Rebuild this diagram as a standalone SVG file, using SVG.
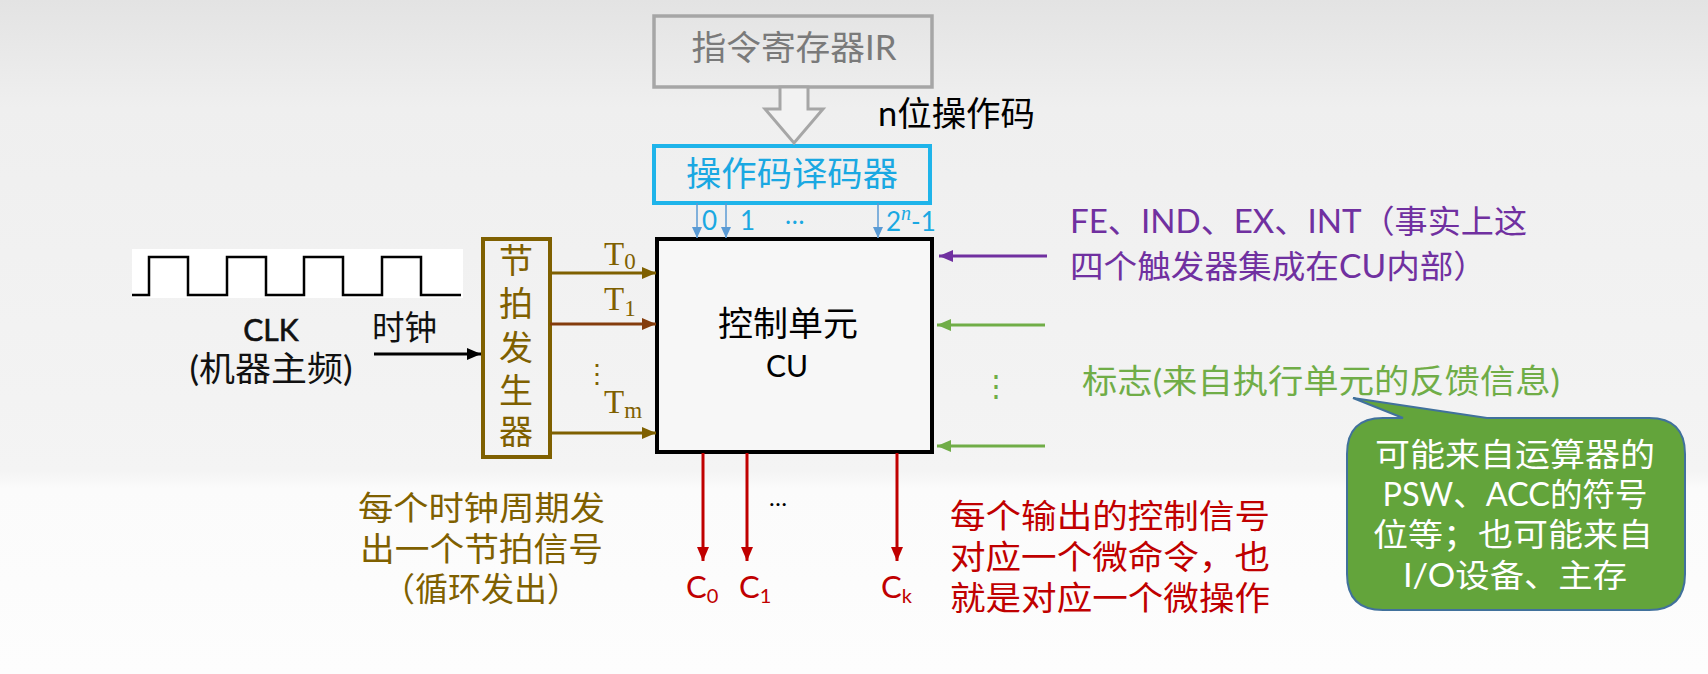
<svg xmlns="http://www.w3.org/2000/svg" width="1708" height="674" viewBox="0 0 1708 674">
<defs>
<style>
.t { font-family: Lato, "Noto Sans CJK SC", sans-serif; }
.c34 { font-size: 34px; }
.serif { font-family: "Liberation Serif", "Noto Sans CJK SC", serif; }
.olive { fill: #7f6000; }
.red { fill: #c00000; }
.purple { fill: #7030a0; }
.green { fill: #70ad47; }
.cyan { fill: #1aa8e2; }
.ln { fill: none; stroke-width: 3; }
</style>
<linearGradient id="bg" x1="0" y1="0" x2="0" y2="1">
<stop offset="0" stop-color="#e3e3e3"/>
<stop offset="0.16" stop-color="#efefef"/>
<stop offset="0.70" stop-color="#f4f4f4"/>
<stop offset="0.725" stop-color="#fbfbfb"/>
<stop offset="1" stop-color="#fdfdfd"/>
</linearGradient>
<marker id="aBlack" markerUnits="userSpaceOnUse" markerWidth="14" markerHeight="12" refX="14" refY="6" orient="auto"><path d="M0,0 L14,6 L0,12 Z" fill="#000"/></marker>
<marker id="aOlive" markerUnits="userSpaceOnUse" markerWidth="14" markerHeight="12" refX="14" refY="6" orient="auto"><path d="M0,0 L14,6 L0,12 Z" fill="#7f6000"/></marker>
<marker id="aBrown" markerUnits="userSpaceOnUse" markerWidth="14" markerHeight="12" refX="14" refY="6" orient="auto"><path d="M0,0 L14,6 L0,12 Z" fill="#843c0c"/></marker>
<marker id="aRed" markerUnits="userSpaceOnUse" markerWidth="14" markerHeight="12" refX="14" refY="6" orient="auto"><path d="M0,0 L14,6 L0,12 Z" fill="#c00000"/></marker>
<marker id="aPurple" markerUnits="userSpaceOnUse" markerWidth="14" markerHeight="12" refX="14" refY="6" orient="auto"><path d="M0,0 L14,6 L0,12 Z" fill="#7030a0"/></marker>
<marker id="aGreen" markerUnits="userSpaceOnUse" markerWidth="14" markerHeight="12" refX="14" refY="6" orient="auto"><path d="M0,0 L14,6 L0,12 Z" fill="#70ad47"/></marker>
<marker id="aBlue" markerUnits="userSpaceOnUse" markerWidth="11" markerHeight="10" refX="11" refY="5" orient="auto"><path d="M0,0 L11,5 L0,10 Z" fill="#5b9bd5"/></marker>
</defs>

<rect x="0" y="0" width="1708" height="674" fill="url(#bg)"/>

<g id="ir">
<rect x="654" y="16" width="278" height="71" fill="none" stroke="#a6a6a6" stroke-width="3.5"/>
<text class="t c34" x="794" y="60" text-anchor="middle" fill="#7a7a7a" textLength="205" lengthAdjust="spacingAndGlyphs">指令寄存器IR</text>
</g>

<g id="decoder">
<rect x="654" y="146" width="276" height="57" fill="none" stroke="#1fb4ea" stroke-width="4"/>
<text class="t c34 cyan" x="792" y="186" text-anchor="middle" textLength="212" lengthAdjust="spacingAndGlyphs">操作码译码器</text>
</g>

<g id="cu">
<rect x="657" y="239" width="275" height="213" fill="#f7f7f7" stroke="#000" stroke-width="4"/>
<text class="t c34" x="788" y="336" text-anchor="middle" fill="#000" textLength="140" lengthAdjust="spacingAndGlyphs">控制单元</text>
<text class="t" x="787" y="377" text-anchor="middle" font-size="30" fill="#000">CU</text>
</g>

<g id="clock">
<rect x="132" y="249" width="331" height="49" fill="#ffffff"/>
<path d="M132,295 H149 V257 H188 V295 H227 V257 H266 V295 H304 V257 H343 V295 H382 V257 H421 V295 H461" fill="none" stroke="#000" stroke-width="2.5"/>
<text class="t" x="271" y="341" text-anchor="middle" font-size="30" fill="#111" stroke="#111" stroke-width="0.6">CLK</text>
<text class="t c34" x="271" y="381" text-anchor="middle" fill="#111" textLength="163" lengthAdjust="spacingAndGlyphs">(机器主频)</text>
</g>

<g id="beat-generator">
<rect x="483" y="239" width="67" height="218" fill="none" stroke="#7f6000" stroke-width="4"/>
<g class="t c34 olive" text-anchor="middle">
<text x="516" y="273">节</text>
<text x="516" y="316">拍</text>
<text x="516" y="360">发</text>
<text x="516" y="403">生</text>
<text x="516" y="444">器</text>
</g>
</g>

<g id="connectors">
<polygon points="780,87 808,87 808,109 823,109 794,143 765,109 780,109" fill="#f2f2f2" stroke="#a6a6a6" stroke-width="3" stroke-linejoin="miter"/>
<line x1="697" y1="203" x2="697" y2="238" stroke="#5b9bd5" stroke-width="1.5" marker-end="url(#aBlue)"/>
<line x1="726" y1="203" x2="726" y2="238" stroke="#5b9bd5" stroke-width="1.5" marker-end="url(#aBlue)"/>
<line x1="878" y1="203" x2="878" y2="238" stroke="#5b9bd5" stroke-width="1.5" marker-end="url(#aBlue)"/>
<line class="ln" x1="374" y1="354" x2="481" y2="354" stroke="#000" marker-end="url(#aBlack)"/>
<line class="ln" x1="550" y1="273" x2="656" y2="273" stroke="#7f6000" marker-end="url(#aOlive)"/>
<line class="ln" x1="550" y1="324" x2="656" y2="324" stroke="#843c0c" marker-end="url(#aBrown)"/>
<line class="ln" x1="550" y1="433" x2="656" y2="433" stroke="#7f6000" marker-end="url(#aOlive)"/>
<line class="ln" x1="1047" y1="256" x2="939" y2="256" stroke="#7030a0" marker-end="url(#aPurple)"/>
<line class="ln" x1="1045" y1="325" x2="937" y2="325" stroke="#70ad47" marker-end="url(#aGreen)"/>
<line class="ln" x1="1045" y1="446" x2="937" y2="446" stroke="#70ad47" marker-end="url(#aGreen)"/>
<line class="ln" x1="703" y1="453" x2="703" y2="561" stroke="#c00000" marker-end="url(#aRed)"/>
<line class="ln" x1="747" y1="453" x2="747" y2="561" stroke="#c00000" marker-end="url(#aRed)"/>
<line class="ln" x1="897" y1="453" x2="897" y2="561" stroke="#c00000" marker-end="url(#aRed)"/>
</g>

<g id="labels">
<text class="t c34" x="878" y="126" fill="#000" textLength="157" lengthAdjust="spacingAndGlyphs">n位操作码</text>
<g class="t cyan" font-size="26">
<text x="702" y="230">0</text>
<text x="740" y="230">1</text>
<text x="785" y="224">…</text>
<text x="886" y="231">2<tspan class="serif" font-size="20" font-style="italic" dy="-11">n</tspan><tspan dy="11">-1</tspan></text>
</g>
<text class="t c34" x="372" y="340" fill="#111" textLength="65" lengthAdjust="spacingAndGlyphs">时钟</text>
<g class="serif olive" font-size="33">
<text x="604" y="265">T<tspan font-size="23" dy="4">0</tspan></text>
<text x="604" y="310">T<tspan font-size="23" dy="6">1</tspan></text>
<text x="604" y="413">T<tspan font-size="23" dy="5">m</tspan></text>
</g>
<text class="t olive" x="597" y="383" font-size="26" text-anchor="middle">⋮</text>
<text class="t" x="996" y="396" font-size="30" text-anchor="middle" fill="#70ad47">⋮</text>
<text class="t" x="778" y="506" font-size="24" text-anchor="middle" fill="#000">…</text>
<g class="t red" font-size="31">
<text x="686" y="598">C<tspan font-size="20" dy="5">0</tspan></text>
<text x="739" y="598">C<tspan font-size="20" dy="5">1</tspan></text>
<text x="881" y="598">C<tspan font-size="20" dy="5">k</tspan></text>
</g>
<g class="t olive" font-size="33">
<text x="358" y="520" textLength="247" lengthAdjust="spacingAndGlyphs">每个时钟周期发</text>
<text x="360" y="561" textLength="243" lengthAdjust="spacingAndGlyphs">出一个节拍信号</text>
<text x="481" y="601" text-anchor="middle">（循环发出）</text>
</g>
<g class="t red" font-size="33">
<text x="950" y="528" textLength="320" lengthAdjust="spacingAndGlyphs">每个输出的控制信号</text>
<text x="950" y="569" textLength="320" lengthAdjust="spacingAndGlyphs">对应一个微命令，也</text>
<text x="950" y="610" textLength="320" lengthAdjust="spacingAndGlyphs">就是对应一个微操作</text>
</g>
<g class="t purple" font-size="32">
<text x="1070" y="233" textLength="457" lengthAdjust="spacingAndGlyphs">FE、IND、EX、INT（事实上这</text>
<text x="1070" y="278" textLength="417" lengthAdjust="spacingAndGlyphs">四个触发器集成在CU内部）</text>
</g>
<text class="t green" x="1082" y="393" font-size="33" textLength="478" lengthAdjust="spacingAndGlyphs">标志(来自执行单元的反馈信息)</text>
</g>

<g id="bubble">
<path d="M1383,418 L1403,418 L1353,398 L1487,418 L1649,418 Q1685,418 1685,454 L1685,574 Q1685,610 1649,610 L1383,610 Q1347,610 1347,574 L1347,454 Q1347,418 1383,418 Z" fill="#63a43b" stroke="#41719c" stroke-width="2"/>
<g class="t" font-size="32" fill="#ffffff" text-anchor="middle">
<text x="1515" y="466" textLength="280" lengthAdjust="spacingAndGlyphs">可能来自运算器的</text>
<text x="1515" y="506" textLength="265" lengthAdjust="spacingAndGlyphs">PSW、ACC的符号</text>
<text x="1513" y="546" textLength="280" lengthAdjust="spacingAndGlyphs">位等；也可能来自</text>
<text x="1515" y="587" textLength="224" lengthAdjust="spacingAndGlyphs">I/O设备、主存</text>
</g>
</g>
</svg>
